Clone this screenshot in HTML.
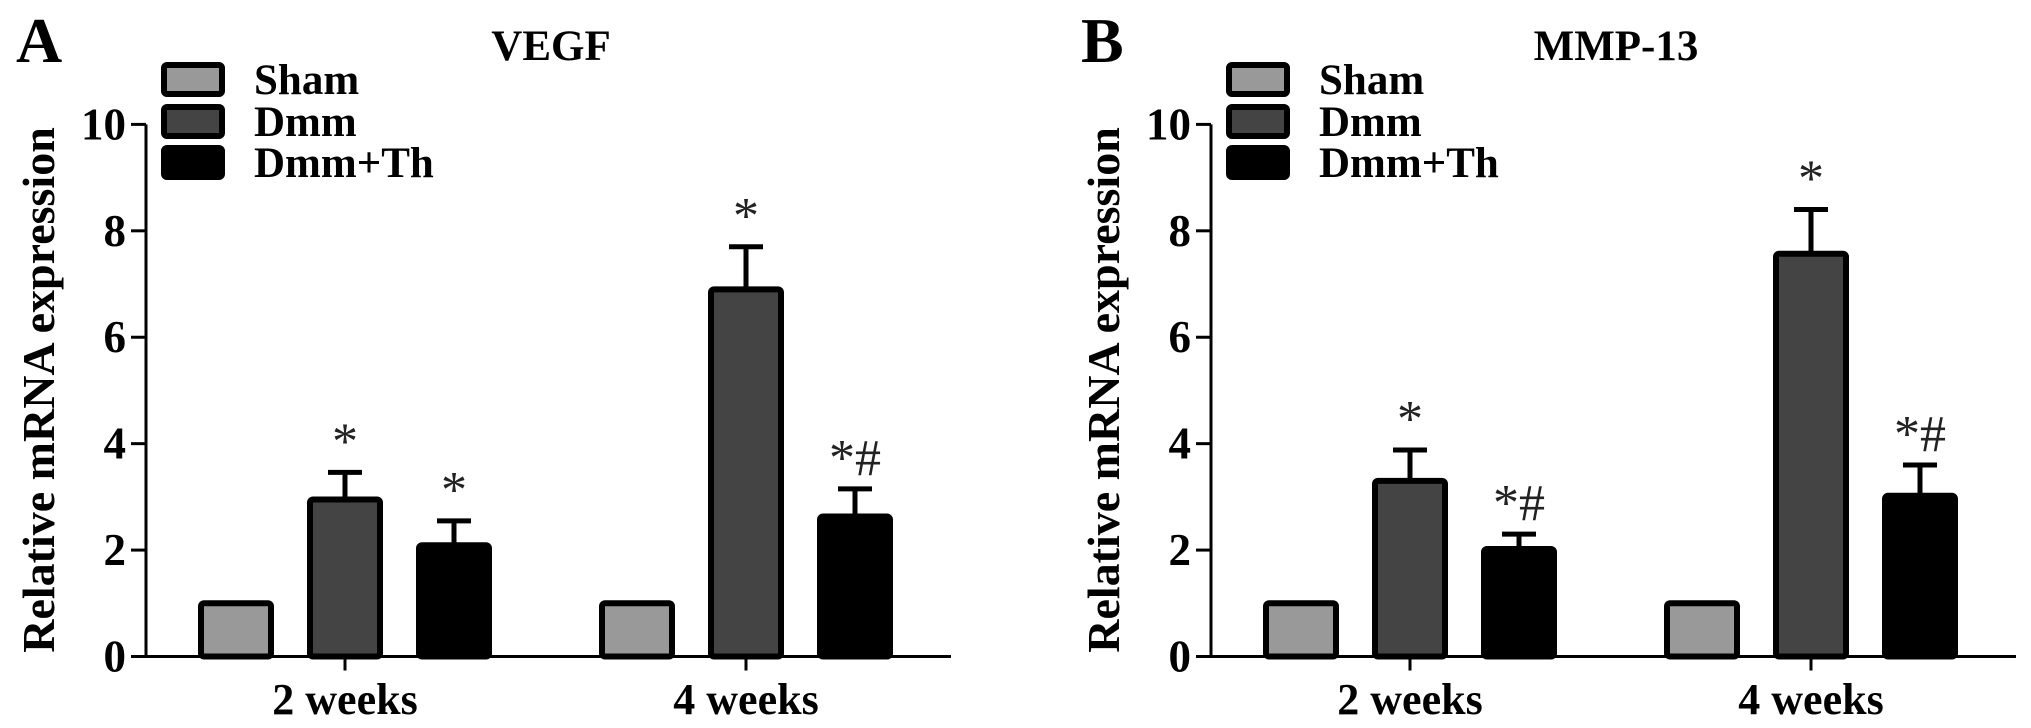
<!DOCTYPE html>
<html><head><meta charset="utf-8"><style>
body{margin:0;background:#fff;}
svg{display:block;font-family:"Liberation Serif",serif;}
</style></head><body>
<svg id="chart" width="2031" height="728"></svg>
<script>
const categories = ["2 weeks", "4 weeks"];
const seriesNames = ["Sham", "Dmm", "Dmm+Th"];
const vegfValues = [[1, 2.95, 2.09], [1, 6.9, 2.63]];
const vegfErrors = [[0, 0.51, 0.46], [0, 0.8, 0.52]];
const vegfMarks = [["", "*", "*"], ["", "*", "*#"]];
const mmpValues = [[1, 3.3, 2.02], [1, 7.57, 3.02]];
const mmpErrors = [[0, 0.58, 0.28], [0, 0.83, 0.58]];
const mmpMarks = [["", "*", "*#"], ["", "*", "*#"]];
const yTicks = [0, 2, 4, 6, 8, 10];
const fills = ["#999999", "#444444", "#000000"];

const NS = "http://www.w3.org/2000/svg";
const svg = document.getElementById("chart");
function mk(tag, attrs, parent, text){
  const e = document.createElementNS(NS, tag);
  for (const k in attrs) e.setAttribute(k, attrs[k]);
  if (text !== undefined) e.textContent = text;
  (parent || svg).appendChild(e);
  return e;
}

function panel(ox, letter, title, values, errors, marks, key){
  const g = mk("g", {});
  
  
  const axX = ox + 146, y0 = 656.5, yTop = 124.4, xEnd = ox + 951;
  const y = v => y0 - (v / 10) * (y0 - yTop);
  const groupX = i => ox + 345 + i * 401;
  const barX = (i, j) => groupX(i) - 147 + j * 109;
  const bw = 76;

  let t = mk("text", {x: ox + 16, y: 62, "font-size": 64, "font-weight": "bold"}, g, letter);
  
  
  t = mk("text", {x: ox + 551, y: 60, "font-size": 43, "font-weight": "bold", "text-anchor": "middle"}, g, title);
  
  

  let a = mk("line", {x1: axX, y1: yTop, x2: axX, y2: y0, stroke: "#000", "stroke-width": 3}, g);
  
  
  a = mk("line", {x1: axX, y1: y0, x2: xEnd, y2: y0, stroke: "#000", "stroke-width": 3}, g);
  
  
  yTicks.forEach(v => {
    mk("line", {x1: axX - 15, y1: y(v), x2: axX, y2: y(v), stroke: "#000", "stroke-width": 3}, g);
    const tl = mk("text", {x: axX - 20, y: y(v) + 15, "font-size": 45, "font-weight": "bold", "text-anchor": "end"}, g, String(v));
    
    
  });
  const yt = mk("text", {x: 0, y: 0, "font-size": 46, "font-weight": "bold", "text-anchor": "middle",
    transform: `translate(${ox + 54},390) rotate(-90)`}, g, "Relative mRNA expression");
  
  

  categories.forEach((c, i) => {
    mk("line", {x1: groupX(i), y1: y0, x2: groupX(i), y2: y0 + 14, stroke: "#000", "stroke-width": 3}, g);
    const xl = mk("text", {x: groupX(i), y: 714, "font-size": 44, "font-weight": "bold", "text-anchor": "middle"}, g, c);
    
    
    values[i].forEach((v, j) => {
      const bx = barX(i, j), top = y(v);
      const e = errors[i][j];
      if (e > 0) {
        const et = y(v + e);
        const el = mk("path", {d: `M${bx + bw/2},${top} V${et} M${bx + bw/2 - 17},${et} H${bx + bw/2 + 17}`,
          stroke: "#000", "stroke-width": 5, fill: "none"}, g);
        
        
      }
      const r = mk("rect", {x: bx + 3, y: top, width: bw - 6, height: y0 - top, rx: 3,
        fill: fills[j], stroke: "#000", "stroke-width": 6}, g);
      
      
      if (marks[i][j]) {
        const m = mk("text", {x: bx + bw/2, y: y(v + e) - 14, "font-size": 52, "text-anchor": "middle", fill: "#222"}, g, marks[i][j]);
        
        
      }
    });
  });

  const lys = [62, 104, 145];
  seriesNames.forEach((n, j) => {
    const lg = mk("g", {}, g);
    
    
    mk("rect", {x: ox + 164, y: lys[j] + 3, width: 58, height: 29, rx: 3, fill: fills[j], stroke: "#000", "stroke-width": 6}, lg);
    mk("text", {x: ox + 254, y: lys[j] + 32, "font-size": 43, "font-weight": "bold"}, lg, n);
  });
}

panel(0, "A", "VEGF", vegfValues, vegfErrors, vegfMarks, "vegf");
panel(1065, "B", "MMP-13", mmpValues, mmpErrors, mmpMarks, "mmp13");
</script>
</body></html>
